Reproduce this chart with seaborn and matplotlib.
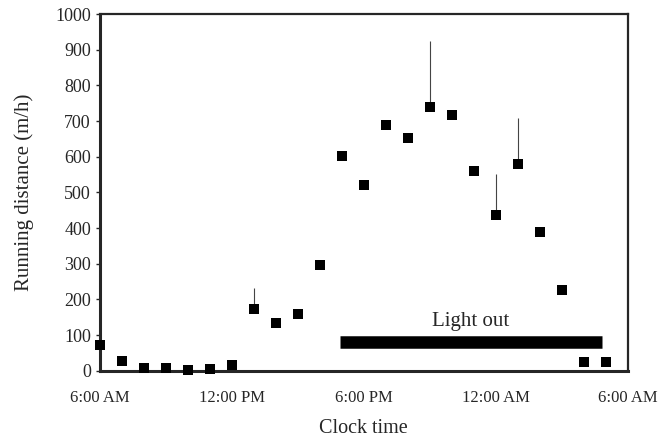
import numpy as np
import pandas as pd
import matplotlib
matplotlib.use("Agg")
import matplotlib.pyplot as plt
import seaborn as sns

# hours after midnight (6 = 6:00 AM, 30 = 6:00 AM next day)
hours = [6, 7, 8, 9, 10, 11, 12, 13, 14, 15, 16, 17,
         18, 19, 20, 21, 22, 23, 24, 25, 26, 27, 28, 29]
distance = [72, 27, 7, 7, 2, 5, 15, 172, 133, 160, 298, 603,
            522, 690, 653, 740, 718, 560, 438, 580, 388, 226, 24, 24]
# upper error (m/h), only visible on a few points
err_up = [0, 0, 0, 0, 0, 0, 0, 60, 0, 0, 0, 0,
          0, 0, 0, 185, 0, 0, 115, 130, 0, 0, 0, 0]

tick_hours = [6, 12, 18, 24, 30]
tick_labels = ["6:00 AM", "12:00 PM", "6:00 PM", "12:00 AM", "6:00 AM"]

light_out_start = 16.9
light_out_end = 28.85
light_out_level = 80

df = pd.DataFrame({"hour": hours, "distance": distance})

sns.set_style("ticks")
plt.rcParams["font.family"] = ["Liberation Serif", "DejaVu Serif"]

fig = plt.figure(figsize=(6.62, 4.42), dpi=100)
ax = fig.add_axes([0.151, 0.161, 0.797, 0.807])

# error bars (upper only), faint as in a scanned figure
ax.vlines(df["hour"], df["distance"], df["distance"] + np.array(err_up),
          color="#444444", linewidth=0.8, zorder=2)

sns.scatterplot(data=df, x="hour", y="distance", marker="s", s=42,
                color="black", edgecolor="black", linewidth=0, ax=ax,
                zorder=3, clip_on=False)

# light-out bar
ax.plot([light_out_start, light_out_end], [light_out_level, light_out_level],
        color="black", linewidth=9, solid_capstyle="butt", zorder=2)
ax.text((light_out_start + light_out_end) / 2, 112, "Light out",
        ha="center", va="bottom", fontsize=15)

ax.set_xlim(6, 30)
ax.set_ylim(0, 1000)
ax.set_xticks(tick_hours)
ax.set_xticklabels(tick_labels)
ax.set_yticks(range(0, 1001, 100))
ax.tick_params(axis="x", length=0, pad=14, labelsize=12)
ax.tick_params(axis="y", length=3, width=1, labelsize=13, direction="out")

ax.set_xlabel("Clock time", fontsize=14.5, labelpad=9)
ax.set_ylabel("Running distance (m/h)", fontsize=15, labelpad=15)

for side in ["left", "bottom"]:
    ax.spines[side].set_linewidth(2.2)
for side in ["top", "right"]:
    ax.spines[side].set_visible(True)
    ax.spines[side].set_linewidth(1.6)

fig.savefig("out.png", dpi=100)
